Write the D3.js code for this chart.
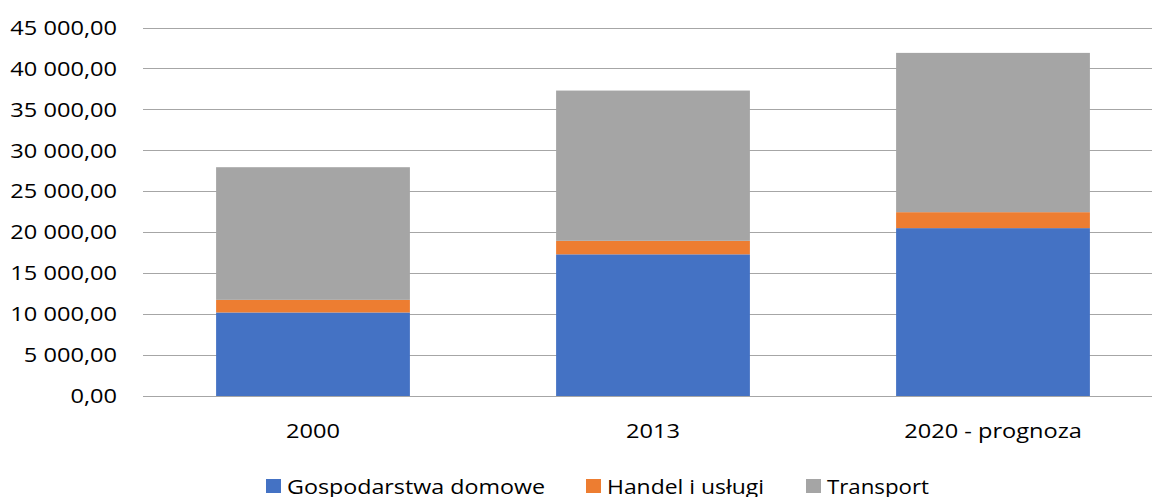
<!DOCTYPE html>
<meta charset="utf-8">
<head>
	<title>Zużycie energii</title>
	<style>
		body { margin: 0; background: #fff; }
		text { font-family: "Open Sans", "Noto Sans", sans-serif; fill: #000; }
	</style>
</head>
<body>
	<div class="container"></div>
</body>
<script src="https://cdnjs.cloudflare.com/ajax/libs/d3/7.8.5/d3.min.js"></script>
<script type="text/javascript">

	// Chart data
	var categories = ["2000", "2013", "2020 - prognoza"];
	var series = ["Gospodarstwa domowe", "Handel i usługi", "Transport"];
	var gospodarstwa = [10200, 17300, 20500];
	var handel = [1540, 1650, 1950];
	var transport = [16200, 18350, 19450];
	var yTicks = [0, 5000, 10000, 15000, 20000, 25000, 30000, 35000, 40000, 45000];
	var colors = ["#4472C4", "#ED7D31", "#A5A5A5"];

	var width = 1152;
	var height = 497;

	var rows = categories.map(function (c, i) {
		return { cat: c, g: gospodarstwa[i], h: handel[i], t: transport[i] };
	});

	var svg = d3.select(".container").append("svg")
		.attr("width", width)
		.attr("height", height);

	var x = d3.scaleBand()
		.domain(categories)
		.range([143, 1163])
		.paddingInner(0.43)
		.paddingOuter(0.215);

	var y = d3.scaleLinear()
		.domain([0, 45000])
		.range([396, 27.5]);

	var fmt = function (v) {
		var s = d3.format(",.2f")(v);
		return s.replace(/,/g, " ").replace(".", ",");
	};

	// gridlines
	svg.append("g")
		.selectAll("line")
		.data(yTicks)
		.enter()
		.append("line")
		.attr("x1", 143)
		.attr("x2", 1163)
		.attr("y1", function (d) { return Math.round(y(d)) + 0.5; })
		.attr("y2", function (d) { return Math.round(y(d)) + 0.5; })
		.attr("stroke", "#a6a6a6")
		.attr("stroke-width", 1);

	// y labels
	svg.append("g")
		.selectAll("text")
		.data(yTicks)
		.enter()
		.append("text")
		.attr("transform", function (d) { return "translate(117," + y(d) + ") scale(1.18,1)"; })
		.attr("dy", "0.36em")
		.attr("text-anchor", "end")
		.attr("font-size", 20)
		.text(fmt);

	// stacked bars
	var stack = d3.stack().keys(["g", "h", "t"]);
	var layers = stack(rows);

	svg.append("g")
		.selectAll("g")
		.data(layers)
		.enter()
		.append("g")
		.attr("fill", function (d, i) { return colors[i]; })
		.selectAll("rect")
		.data(function (d) { return d; })
		.enter()
		.append("rect")
		.attr("x", function (d) { return x(d.data.cat); })
		.attr("width", x.bandwidth())
		.attr("y", function (d) { return y(d[1]); })
		.attr("height", function (d) { return y(d[0]) - y(d[1]); });

	// x labels
	svg.append("g")
		.selectAll("text")
		.data(categories)
		.enter()
		.append("text")
		.attr("transform", function (d) { return "translate(" + (x(d) + x.bandwidth() / 2) + ",438) scale(1.18,1)"; })
		.attr("text-anchor", "middle")
		.attr("font-size", 20)
		.text(function (d) { return d; });

	// legend
	var legendX = [266, 586, 806];
	var legendW = [258, 157, 102];
	var legend = svg.append("g")
		.selectAll("g")
		.data(series)
		.enter()
		.append("g")
		.attr("transform", function (d, i) { return "translate(" + legendX[i] + ",479)"; });

	legend.append("rect")
		.attr("width", 15)
		.attr("height", 14)
		.attr("fill", function (d, i) { return colors[i]; });

	legend.append("text")
		.attr("x", 21)
		.attr("y", 14.5)
		.attr("font-size", 20)
		.attr("textLength", function (d, i) { return legendW[i]; })
		.attr("lengthAdjust", "spacingAndGlyphs")
		.text(function (d) { return d; });

</script>
</html>
